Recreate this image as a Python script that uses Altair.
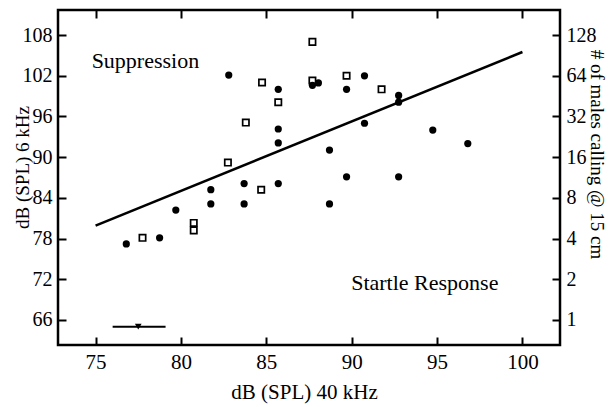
import altair as alt
import pandas as pd

# ---- data ----
circle_x = [76.8, 78.75, 79.7, 81.75, 81.75, 82.8, 83.7, 83.7, 85.7, 85.7, 85.7, 85.7,
            87.7, 88.05, 88.7, 88.7, 89.7, 89.7, 90.75, 90.75, 92.75, 92.75, 92.75, 94.75, 96.8]
circle_y = [77.2, 78.1, 82.2, 85.2, 83.1, 102.1, 86.1, 83.1, 100.0, 94.15, 92.1, 86.1,
            100.6, 100.95, 91.05, 83.1, 100.0, 87.1, 102.0, 95.0, 99.1, 98.1, 87.1, 94.0, 92.0]
square_x = [77.75, 80.75, 80.75, 82.75, 83.8, 84.7, 84.75, 85.7, 87.7, 87.7, 89.7, 91.75]
square_y = [78.1, 80.3, 79.2, 89.2, 95.1, 85.2, 101.0, 98.1, 107.0, 101.3, 102.0, 100.0]
fit_x = [75, 100]
fit_y = [79.9, 105.5]
err_lo = [76.0]
err_hi = [79.1]
err_mid = [77.5]
err_y = [65.0]
x_ticks = [75, 80, 85, 90, 95, 100]
y_ticks = [66, 72, 78, 84, 90, 96, 102, 108]
right_ticks = [1, 2, 4, 8, 16, 32, 64, 128]
note_text = ["Suppression", "Startle Response"]
note_x = [74.77, 89.97]
note_y = [104.2, 71.45]

X_DOM = [72.8, 102.2]
Y_DOM = [62.3, 111.7]
R_DOM = [2 ** ((Y_DOM[0] - 66) / 6), 2 ** ((Y_DOM[1] - 66) / 6)]

FONT = "Liberation Serif"
W, H = 502, 335

circles = pd.DataFrame({"x": circle_x, "y": circle_y})
squares = pd.DataFrame({"x": square_x, "y": square_y})
fit = pd.DataFrame({"x": fit_x, "y": fit_y})
err = pd.DataFrame({"lo": err_lo, "hi": err_hi, "mid": err_mid, "y": err_y})
notes = pd.DataFrame({"t": note_text, "x": note_x, "y": note_y})
top = pd.DataFrame({"x": x_ticks})
right = pd.DataFrame({"n": right_ticks})

xs = alt.Scale(domain=X_DOM, nice=False, zero=False)
ys = alt.Scale(domain=Y_DOM, nice=False, zero=False)

x_axis = alt.Axis(orient="bottom", values=x_ticks, offset=-8, tickSize=8, tickWidth=2,
                  domain=False, grid=False, labelPadding=6, labelFontSize=21,
                  title="dB (SPL) 40 kHz", titleFontSize=21, titleFontWeight="normal",
                  titleX=246, titleY=61, titleBaseline="alphabetic", titleAlign="center",
                  labelFont=FONT, titleFont=FONT, labelColor="black", titleColor="black",
                  tickColor="black")
y_axis = alt.Axis(orient="left", values=y_ticks, offset=-8, tickSize=8, tickWidth=2,
                  domain=False, grid=False, labelPadding=6, labelFontSize=20,
                  title="dB (SPL) 6 kHz", titleFontSize=19, titleFontWeight="normal",
                  titleAngle=-90, titleX=-44, titleY=157, titleAlign="center",
                  titleBaseline="middle",
                  labelFont=FONT, titleFont=FONT, labelColor="black", titleColor="black",
                  tickColor="black")

X = alt.X("x:Q", scale=xs, axis=x_axis)
Y = alt.Y("y:Q", scale=ys, axis=y_axis)

c_layer = alt.Chart(circles).mark_point(shape="circle", filled=True, size=52,
                                        color="black", opacity=1).encode(x=X, y=Y)
s_layer = alt.Chart(squares).mark_point(shape="square", filled=False, size=40,
                                        color="black", strokeWidth=1.7,
                                        opacity=1).encode(x=X, y=Y)
f_layer = alt.Chart(fit).mark_line(color="black", strokeWidth=2.6).encode(x=X, y=Y)
e_layer = alt.Chart(err).mark_rule(color="black", strokeWidth=2).encode(
    x=alt.X("lo:Q", scale=xs, axis=x_axis), x2="hi:Q", y=Y)
t_layer = alt.Chart(err).mark_point(shape="triangle-down", filled=True, size=45,
                                    color="black", opacity=1).encode(
    x=alt.X("mid:Q", scale=xs, axis=x_axis), y=Y)
n_layer = alt.Chart(notes).mark_text(align="left", baseline="middle", font=FONT,
                                     fontSize=22, color="black").encode(
    x=X, y=Y, text="t:N")

inner = alt.layer(c_layer, s_layer, f_layer, e_layer, t_layer, n_layer)

top_layer = alt.Chart(top).mark_point(opacity=0).encode(
    x=alt.X("x:Q", scale=xs,
            axis=alt.Axis(orient="top", values=x_ticks, offset=-8, tickSize=8,
                          tickWidth=2, domain=False, grid=False, labels=False,
                          title=None, tickColor="black")),
    y=alt.value(0))

right_layer = alt.Chart(right).mark_point(opacity=0).encode(
    x=alt.value(0),
    y=alt.Y("n:Q", scale=alt.Scale(type="log", base=2, domain=R_DOM, nice=False),
            axis=alt.Axis(orient="right", values=right_ticks, offset=-8, tickSize=8,
                          tickWidth=2, domain=False, grid=False, labelPadding=6,
                          labelFontSize=20, labelFont=FONT, labelColor="black",
                          tickColor="black", format="d",
                          title="# of males calling @ 15 cm", titleFont=FONT,
                          titleFontSize=19, titleFontWeight="normal", titleColor="black",
                          titleAngle=90, titleX=44, titleY=144, titleAlign="center",
                          titleBaseline="middle")))

chart = alt.layer(inner, top_layer, right_layer).resolve_scale(
    y="independent").resolve_axis(x="independent", y="independent").properties(
    width=W, height=H,
    autosize=alt.AutoSizeParams(type="none"),
    padding={"left": 50, "top": 2, "right": 47, "bottom": 60},
    background="white",
).configure_view(stroke="black", strokeWidth=2.5)

chart.save("out.html", embed_options={"renderer": "svg", "actions": False})
